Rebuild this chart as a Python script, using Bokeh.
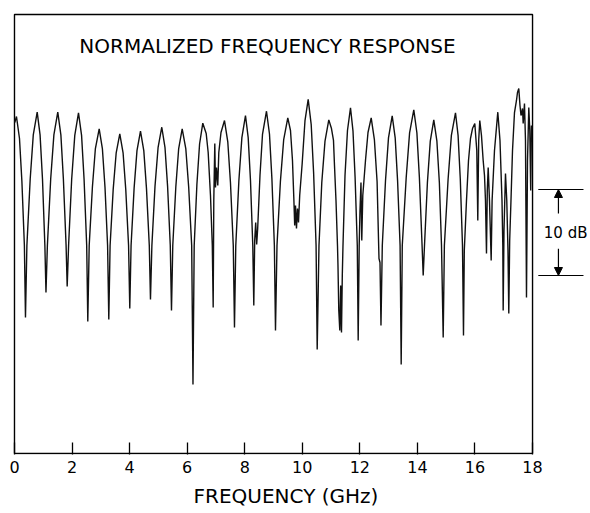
from bokeh.plotting import figure
from bokeh.models import Range1d, FixedTicker, Title, Arrow, NormalHead
from bokeh.core.properties import value
from bokeh.embed import file_html
from bokeh.resources import INLINE

# ---- data (frequency in GHz, normalized response in dB) ----
freq_ghz = [
    0.010, 0.069, 0.174, 0.257, 0.344, 0.382,
    0.431, 0.546, 0.653, 0.789, 0.889, 0.973, 1.056, 1.094,
    1.143, 1.258, 1.369, 1.504, 1.612, 1.699, 1.793, 1.831,
    1.880, 1.987, 2.095, 2.224, 2.331, 2.418, 2.509, 2.547,
    2.596, 2.707, 2.811, 2.943, 3.054, 3.145, 3.235, 3.277,
    3.322, 3.429, 3.534, 3.659, 3.773, 3.867, 3.964, 4.006,
    4.051, 4.156, 4.256, 4.378, 4.493, 4.586, 4.684, 4.725,
    4.774, 4.882, 4.990, 5.118, 5.229, 5.320, 5.413, 5.455,
    5.500, 5.605, 5.705, 5.827, 5.952, 6.053, 6.157, 6.202,
    6.244, 6.338, 6.431, 6.543, 6.661, 6.730, 6.810, 6.873, 6.904,
    6.925, 6.960, 6.984, 7.019, 7.064, 7.099, 7.175, 7.297,
    7.411, 7.505, 7.602, 7.644,
    7.689, 7.797, 7.901, 8.026, 8.120, 8.200, 8.280, 8.315,
    8.346, 8.381, 8.415, 8.450, 8.530, 8.617, 8.756,
    8.860, 8.944, 9.030, 9.069,
    9.121, 9.239, 9.354, 9.496, 9.590, 9.659, 9.705, 9.736,
    9.764, 9.798, 9.833, 9.868, 9.910, 9.996, 10.094, 10.205,
    10.309, 10.393, 10.479, 10.518,
    10.580, 10.677, 10.789, 10.921, 11.014, 11.084, 11.119, 11.171,
    11.223, 11.240, 11.268, 11.303, 11.334, 11.362, 11.390, 11.414,
    11.484, 11.570, 11.675, 11.762, 11.834, 11.911, 11.942,
    11.977, 12.005, 12.039, 12.067, 12.102, 12.196, 12.283, 12.394,
    12.505, 12.599, 12.665, 12.700, 12.734,
    12.780, 12.891, 12.995, 13.124, 13.228, 13.311, 13.398, 13.436,
    13.474, 13.610, 13.728, 13.874, 13.982, 14.069, 14.162, 14.201,
    14.246, 14.347, 14.447, 14.569, 14.677, 14.763, 14.837, 14.896,
    14.937, 15.066, 15.180, 15.323, 15.413, 15.490, 15.566, 15.601,
    15.629, 15.705, 15.775, 15.844, 15.914, 15.994, 16.063, 16.098,
    16.129, 16.167, 16.226, 16.285, 16.331, 16.365, 16.400, 16.428,
    16.459, 16.504, 16.563, 16.595, 16.678, 16.793, 16.869, 16.939,
    16.967, 16.980, 17.008, 17.060, 17.105, 17.147, 17.175, 17.206,
    17.251, 17.304, 17.373, 17.442, 17.477, 17.522, 17.564, 17.599,
    17.651, 17.675, 17.720, 17.755, 17.790, 17.825, 17.870, 17.905,
    17.936, 17.963,
]
response_db = [
    -2.21, -1.51, -4.07, -9.01, -16.51, -24.88,
    -16.51, -8.77, -3.65, -1.01, -3.65, -8.77, -16.51, -21.98,
    -16.51, -8.77, -3.65, -1.01, -3.65, -8.77, -16.51, -21.28,
    -16.51, -8.80, -3.71, -1.08, -3.71, -8.80, -16.51, -25.35,
    -16.51, -9.73, -5.24, -2.94, -5.24, -9.73, -16.51, -25.12,
    -16.51, -10.02, -5.73, -3.52, -5.73, -10.02, -16.51, -23.84,
    -16.51, -9.87, -5.48, -3.22, -5.48, -9.87, -16.51, -22.79,
    -16.51, -9.64, -5.09, -2.76, -5.09, -9.64, -16.51, -24.07,
    -16.51, -9.73, -5.24, -2.94, -5.24, -9.73, -16.51, -32.67,
    -16.51, -9.41, -4.71, -2.29, -3.49, -5.70, -10.70, -16.51, -23.72,
    -11.28, -4.65, -9.77, -7.44, -9.53, -5.70, -3.37, -1.98,
    -4.45, -9.24, -16.51, -26.05,
    -16.51, -8.95, -3.97, -1.40, -3.97, -8.95, -16.51, -23.49,
    -15.93, -13.84, -16.40, -14.53, -8.37, -3.60, -0.90,
    -3.55, -8.71, -16.51, -26.40,
    -16.51, -9.09, -4.19, -1.66, -3.14, -6.63, -10.93, -14.19,
    -11.86, -14.53, -12.21, -13.84, -10.70, -6.98, -1.98, 0.47,
    -2.42, -8.02, -16.51, -28.60,
    -16.51, -9.21, -4.38, -1.90, -2.91, -4.30, -7.21, -11.28,
    -16.51, -18.84, -24.07, -26.40, -21.16, -26.63, -20.00, -16.51,
    -8.37, -3.14, -0.50, -3.22, -8.51, -16.51, -27.56,
    -16.51, -12.44, -9.19, -15.93, -10.70, -6.63, -3.37, -1.66,
    -4.19, -9.09, -18.02, -18.49, -25.81,
    -16.51, -8.98, -4.00, -1.43, -4.00, -8.98, -16.51, -30.35,
    -16.51, -8.63, -3.42, -0.73, -3.42, -8.63, -16.51, -20.00,
    -16.51, -9.21, -4.38, -1.90, -4.38, -9.21, -16.51, -27.21,
    -16.51, -8.80, -3.71, -1.08, -3.71, -8.80, -16.51, -26.98,
    -17.09, -11.28, -6.63, -4.07, -2.91, -2.33, -5.47, -13.60,
    -4.30, -1.98, -3.72, -6.63, -8.37, -11.28, -17.44, -10.12,
    -7.44, -11.28, -18.26, -11.28, -5.47, -1.01, -4.30, -11.28,
    -16.51, -24.07, -14.77, -8.14, -11.28, -17.09, -24.42, -15.93,
    -11.28, -5.47, -1.05, 0.35, 1.28, 1.74, -0.23, -1.40,
    -0.58, -2.33, 0.00, -4.30, -22.56, -6.63, -0.47, -3.14,
    -10.12, -2.56,
]

tick_ghz = [0, 2, 4, 6, 8, 10, 12, 14, 16, 18]
freq_min, freq_max = 0, 18
db_floor, db_ceiling = -40.70, 10.35
scale_bar_db = [-10, -20]
scale_label = "10 dB"
chart_title = "NORMALIZED FREQUENCY RESPONSE"
x_title = "FREQUENCY (GHz)"

FONT = "DejaVu Sans"

p = figure(
    width=590, height=513,
    output_backend="svg", toolbar_location=None,
    x_range=Range1d(-0.069, 20.014), y_range=Range1d(-40.81, 10.58),
    y_axis_location=None,
    min_border_left=12, min_border_right=0, min_border_top=12, min_border_bottom=59,
)
p.background_fill_color = "white"
p.border_fill_color = "white"
p.outline_line_color = None
p.xgrid.visible = False
p.ygrid.visible = False

ax = p.xaxis[0]
ax.ticker = FixedTicker(ticks=tick_ghz, minor_ticks=[])
ax.axis_line_color = None
ax.major_tick_in = 12
ax.major_tick_out = 0
ax.minor_tick_in = 0
ax.minor_tick_out = 0
ax.major_tick_line_color = "black"
ax.major_tick_line_width = 1.3
ax.major_label_text_font = FONT
ax.major_label_text_font_size = "16px"
ax.major_label_text_color = "black"
ax.major_label_standoff = 6

# frame box
p.line(x=[freq_min, freq_min, freq_max, freq_max, freq_min],
       y=[db_floor, db_ceiling, db_ceiling, db_floor, db_floor],
       line_color="black", line_width=1.4)

# response curve
p.line(freq_ghz, response_db, line_color="#111111", line_width=1.4)

# title inside the box
p.text(x=[8.79], y=[6.65], text=[chart_title], text_align="center",
       text_baseline="middle", text_font=value(FONT), text_font_size="20px",
       text_color="black")

# 10 dB scale bar on the right
p.segment(x0=[18.2, 18.2], y0=scale_bar_db, x1=[19.77, 19.77], y1=scale_bar_db,
          line_color="black", line_width=1.2)
p.add_layout(Arrow(x_start=18.9, y_start=-12.8, x_end=18.9, y_end=scale_bar_db[0],
                   end=NormalHead(size=8, fill_color="black", line_color="black"),
                   line_color="black", line_width=1.2))
p.add_layout(Arrow(x_start=18.9, y_start=-16.9, x_end=18.9, y_end=scale_bar_db[1],
                   end=NormalHead(size=8, fill_color="black", line_color="black"),
                   line_color="black", line_width=1.2))
p.text(x=[19.15], y=[-15.1], text=[scale_label], text_align="center",
       text_baseline="middle", text_font=value(FONT), text_font_size="15px",
       text_color="black")

# axis title below the axis
p.add_layout(Title(text=x_title, align="left", offset=181, standoff=12,
                   text_font=FONT, text_font_size="20px", text_font_style="normal",
                   text_color="black"), "below")

open("out.html", "w").write(file_html(p, INLINE))
